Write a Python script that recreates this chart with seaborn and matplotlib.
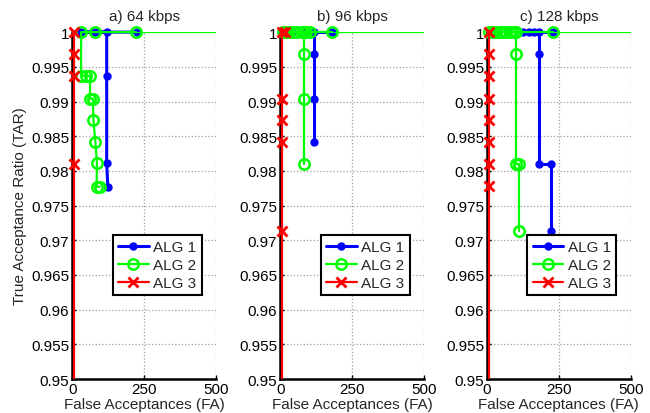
import matplotlib
matplotlib.use("Agg")
import matplotlib.pyplot as plt
import seaborn as sns

# Titles / legend names
titles = ["a) 64 kbps", "b) 96 kbps", "c) 128 kbps"]
alg_names = ["ALG 1", "ALG 2", "ALG 3"]

# a) 64 kbps  (FA, TAR)
alg1_fa_64 = [225, 31, 78, 120, 120, 120, 124]
alg1_tar_64 = [1.0, 1.0, 1.0, 1.0, 0.9937, 0.9811, 0.9777]
alg2_fa_64 = [95, 85, 86, 81, 74, 72, 62, 62, 49, 31, 31, 78, 222, 500]
alg2_tar_64 = [0.9777, 0.9777, 0.9811, 0.9841, 0.9873, 0.9904, 0.9904,
               0.9937, 0.9937, 0.9937, 1.0, 1.0, 1.0, 1.0]
alg3_fa_64 = [7, 7, 7, 7, 7]
alg3_tar_64 = [1.0, 0.9968, 0.9937, 0.9810, 0.95]

# b) 96 kbps
alg1_fa_96 = [180, 40, 80, 118, 118, 118, 118]
alg1_tar_96 = [1.0, 1.0, 1.0, 1.0, 0.9968, 0.9904, 0.9842]
alg2_fa_96 = [83, 83, 83, 83, 10, 20, 30, 45, 60, 75, 90, 105, 180, 500]
alg2_tar_96 = [0.9810, 0.9904, 0.9968, 1.0, 1.0, 1.0, 1.0, 1.0, 1.0,
               1.0, 1.0, 1.0, 1.0, 1.0]
alg3_fa_96 = [16, 7, 7, 7, 7, 7, 7]
alg3_tar_96 = [1.0, 1.0, 0.9904, 0.9873, 0.9842, 0.9714, 0.95]

# c) 128 kbps
alg1_fa_128 = [230, 127, 147, 164, 180, 180, 180, 224, 224]
alg1_tar_128 = [1.0, 1.0, 1.0, 1.0, 1.0, 0.9968, 0.9810, 0.9810, 0.9714]
alg2_fa_128 = [112, 112, 100, 100, 100, 8, 20, 32, 44, 56, 68, 80, 92, 230, 500]
alg2_tar_128 = [0.9714, 0.9810, 0.9810, 0.9968, 1.0, 1.0, 1.0, 1.0, 1.0,
                1.0, 1.0, 1.0, 1.0, 1.0, 1.0]
alg3_fa_128 = [7, 7, 7, 7, 7, 7, 7, 7, 7]
alg3_tar_128 = [1.0, 0.9968, 0.9937, 0.9904, 0.9873, 0.9842, 0.9810, 0.9778, 0.95]

x_ticks = [0, 250, 500]
y_ticks = [0.95, 0.955, 0.96, 0.965, 0.97, 0.975, 0.98, 0.985, 0.99, 0.995, 1.0]
y_tick_labels = ["0.95", "0.955", "0.96", "0.965", "0.97", "0.975",
                 "0.98", "0.985", "0.99", "0.995", "1"]

panels = [
    [(alg1_fa_64, alg1_tar_64), (alg2_fa_64, alg2_tar_64), (alg3_fa_64, alg3_tar_64)],
    [(alg1_fa_96, alg1_tar_96), (alg2_fa_96, alg2_tar_96), (alg3_fa_96, alg3_tar_96)],
    [(alg1_fa_128, alg1_tar_128), (alg2_fa_128, alg2_tar_128), (alg3_fa_128, alg3_tar_128)],
]

# style per algorithm; "tail" = last point only continues the line (no marker)
styles = [
    dict(color=(0, 0, 1), marker="o", ms=5, mfc=(0, 0, 1), mec=(0, 0, 1), mew=1, lw=2.2, tail=False),
    dict(color=(0, 1, 0), marker="o", ms=7.5, mfc="none", mec=(0, 1, 0), mew=1.8, lw=1.6, tail=True),
    dict(color=(1, 0, 0), marker="x", ms=7, mfc=(1, 0, 0), mec=(1, 0, 0), mew=2, lw=1.6, tail=True),
]

sns.set_theme(style="white")
plt.rcParams["font.family"] = ["Liberation Sans", "DejaVu Sans"]
plt.rcParams["font.size"] = 11

fig = plt.figure(figsize=(6.5, 4.14), dpi=100)
lefts = [0.111, 0.431, 0.749]

for i, left in enumerate(lefts):
    ax = fig.add_axes([left, 0.082, 0.2215, 0.838])
    for (fa, tar), st, name in zip(panels[i], styles, alg_names):
        st = dict(st)
        tail = st.pop("tail")
        color = st.pop("color")
        lw = st.pop("lw")
        n = len(fa) - 1 if tail else len(fa)
        sns.lineplot(
            x=fa[:n], y=tar[:n],
            sort=False, estimator=None, legend=False, ax=ax,
            color=color, lw=lw, label=name, clip_on=False, zorder=3,
            **st
        )
        if tail:
            sns.lineplot(
                x=fa[-2:], y=tar[-2:],
                sort=False, estimator=None, legend=False, ax=ax,
                color=color, lw=lw, zorder=3
            )

    ax.set_xlim(0, 500)
    ax.set_ylim(0.95, 1.0)
    ax.set_xticks(x_ticks)
    ax.set_yticks(y_ticks)
    ax.set_yticklabels(y_tick_labels)
    ax.grid(True, ls=":", color="#a0a0a0", lw=0.9)
    ax.tick_params(direction="in", length=3, width=1, pad=2, labelsize=11,
                   left=True, bottom=True, colors="black")
    for side in ["top", "right"]:
        ax.spines[side].set_visible(False)
    for side in ["left", "bottom"]:
        ax.spines[side].set_color("black")
        ax.spines[side].set_linewidth(1.8)
        ax.spines[side].set_zorder(2)

    ax.set_title(titles[i], fontsize=11, pad=9)
    ax.set_xlabel("False Acceptances (FA)", fontsize=11, labelpad=1)
    if i == 0:
        ax.set_ylabel("True Acceptance Ratio (TAR)", fontsize=11, labelpad=3)
    else:
        ax.set_ylabel("")

    leg = ax.legend(
        loc="upper right", bbox_to_anchor=(0.9, 0.415), borderaxespad=0,
        fontsize=11, fancybox=False, framealpha=1, edgecolor="black",
        handlelength=2.0, handletextpad=0.3, labelspacing=0.25,
        borderpad=0.35
    )
    leg.get_frame().set_linewidth(1.5)
    leg.set_zorder(5)

plt.savefig("out.png", dpi=100)
